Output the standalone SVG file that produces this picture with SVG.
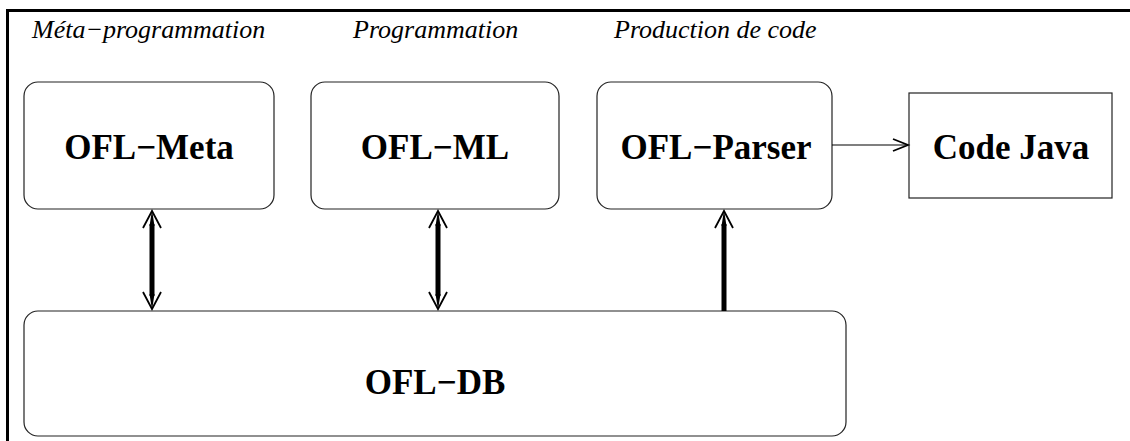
<svg xmlns="http://www.w3.org/2000/svg" width="1130" height="441" viewBox="0 0 1130 441">
<style>
.box{fill:#fff;stroke:#222;stroke-width:1.2}
.lbl{font-family:"Liberation Serif","Times New Roman",serif;font-weight:bold;font-size:35px;fill:#000;text-anchor:middle}
.cat{font-family:"Liberation Serif","Times New Roman",serif;font-style:italic;font-size:26px;fill:#000}
.thick{stroke:#000;stroke-width:5;fill:none}
.head{stroke:#000;stroke-width:1.8;fill:none}
</style>
<rect width="1130" height="441" fill="#fff"/>
<g id="frame">
<line x1="6" y1="10.5" x2="1130" y2="10.5" stroke="#000" stroke-width="3"/>
<line x1="7.5" y1="9" x2="7.5" y2="441" stroke="#000" stroke-width="3"/>
</g>
<g id="categories">
<text class="cat" x="32" y="38">Méta−programmation</text>
<text class="cat" x="353" y="38">Programmation</text>
<text class="cat" x="614" y="38">Production de code</text>
</g>
<g id="ofl-meta">
<rect class="box" x="24" y="82" width="250" height="127" rx="14"/>
<text class="lbl" x="149" y="159">OFL−Meta</text>
</g>
<g id="ofl-ml">
<rect class="box" x="311" y="82" width="248" height="127" rx="14"/>
<text class="lbl" x="435" y="159">OFL−ML</text>
</g>
<g id="ofl-parser">
<rect class="box" x="597" y="82" width="235" height="127" rx="14"/>
<text class="lbl" x="716" y="159">OFL−Parser</text>
</g>
<g id="code-java">
<rect class="box" x="909" y="93" width="203" height="105" rx="0"/>
<text class="lbl" x="1011" y="159">Code Java</text>
</g>
<g id="ofl-db">
<rect class="box" x="24" y="311" width="822" height="125" rx="14"/>
<text class="lbl" x="435" y="394">OFL−DB</text>
</g>
<g id="connectors">
<line class="thick" x1="152" y1="224" x2="152" y2="296"/>
<polygon points="152,210 149.5,226 154.5,226" fill="#000"/>
<polygon points="152,310 149.5,294 154.5,294" fill="#000"/>
<polyline class="head" points="143,228 152,211 161,228"/>
<polyline class="head" points="143,292 152,309 161,292"/>
<line class="thick" x1="438" y1="224" x2="438" y2="296"/>
<polygon points="438,210 435.5,226 440.5,226" fill="#000"/>
<polygon points="438,310 435.5,294 440.5,294" fill="#000"/>
<polyline class="head" points="429,228 438,211 447,228"/>
<polyline class="head" points="429,292 438,309 447,292"/>
<line class="thick" x1="724" y1="224" x2="724" y2="311"/>
<polygon points="724,210 721.5,226 726.5,226" fill="#000"/>
<polyline class="head" points="715,228 724,211 733,228"/>
<line x1="832" y1="145" x2="908" y2="145" stroke="#000" stroke-width="1.2"/>
<polyline class="head" stroke-width="1.4" points="893,139 908,145 893,151"/>
</g>
</svg>
